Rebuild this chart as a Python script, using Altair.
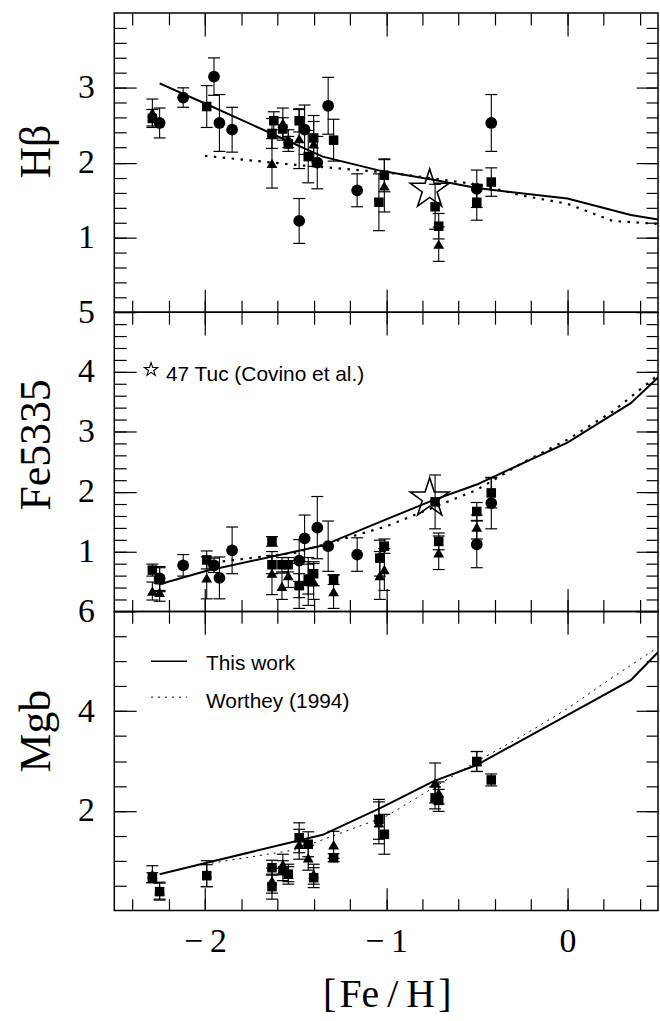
import altair as alt
import pandas as pd

# ---------------- data ----------------
# H-beta panel
hb_circ_x = [-2.25, -2.12, -1.95, -1.92, -1.85, -1.45, -1.38, -1.32, -1.48, -1.16, -0.50, -0.42]
hb_circ_y = [2.53, 2.87, 3.15, 2.53, 2.44, 2.44, 2.00, 2.76, 1.22, 1.63, 1.65, 2.53]
hb_circ_e = [0.20, 0.13, 0.25, 0.38, 0.30, 0.33, 0.35, 0.38, 0.30, 0.22, 0.25, 0.38]
hb_sq_x = [-2.29, -1.99, -1.63, -1.62, -1.57, -1.54, -1.48, -1.43, -1.40, -1.29, -1.04, -1.01, -0.73, -0.71, -0.50, -0.42]
hb_sq_y = [2.59, 2.75, 2.39, 2.56, 2.45, 2.25, 2.56, 2.08, 2.33, 2.30, 1.47, 1.83, 1.41, 1.15, 1.47, 1.74]
hb_sq_e = [0.12, 0.28, 0.20, 0.12, 0.15, 0.10, 0.15, 0.35, 0.30, 0.28, 0.38, 0.22, 0.30, 0.17, 0.24, 0.19]
hb_tri_x = [-2.29, -1.63, -1.57, -1.54, -1.48, -1.40, -1.01, -0.71]
hb_tri_y = [2.67, 1.99, 2.53, 2.32, 2.32, 2.25, 1.69, 0.91]
hb_tri_e = [0.18, 0.33, 0.20, 0.12, 0.40, 0.30, 0.35, 0.23]
hb_star = [-0.76, 1.64]

# Fe5335 panel
fe_circ_x = [-2.25, -2.12, -1.95, -1.92, -1.85, -1.48, -1.45, -1.38, -1.32, -1.16, -0.50, -0.42]
fe_circ_y = [0.55, 0.77, 0.77, 0.56, 1.02, 0.85, 1.22, 1.40, 1.09, 0.95, 1.12, 1.81]
fe_circ_e = [0.20, 0.18, 0.12, 0.35, 0.39, 0.35, 0.39, 0.52, 0.42, 0.28, 0.39, 0.43]
fe_sq_x = [-2.29, -2.25, -1.99, -1.63, -1.63, -1.575, -1.54, -1.48, -1.43, -1.40, -1.29, -1.035, -1.01, -0.73, -0.71, -0.50, -0.42]
fe_sq_y = [0.69, 0.53, 0.86, 1.17, 0.78, 0.78, 0.78, 0.43, 0.54, 0.63, 0.53, 0.89, 1.09, 1.83, 1.17, 1.67, 1.98]
fe_sq_e = [0.10, 0.20, 0.15, 0.08, 0.15, 0.12, 0.12, 0.20, 0.25, 0.20, 0.08, 0.30, 0.12, 0.45, 0.14, 0.15, 0.25]
fe_tri_x = [-2.29, -2.25, -1.99, -1.63, -1.575, -1.54, -1.48, -1.43, -1.40, -1.29, -1.035, -1.01, -0.71, -0.50]
fe_tri_y = [0.34, 0.32, 0.56, 0.64, 0.42, 0.60, 0.45, 0.50, 0.50, 0.33, 0.60, 0.70, 0.98, 1.41]
fe_tri_e = [0.15, 0.15, 0.35, 0.36, 0.22, 0.20, 0.40, 0.40, 0.30, 0.28, 0.40, 0.35, 0.28, 0.20]
fe_star = [-0.76, 1.89]

# Mgb panel
mg_sq_x = [-2.29, -2.25, -1.99, -1.63, -1.63, -1.57, -1.54, -1.48, -1.43, -1.40, -1.29, -1.04, -1.01, -0.73, -0.71, -0.50, -0.42]
mg_sq_y = [0.66, 0.38, 0.70, 0.86, 0.48, 0.80, 0.73, 1.46, 1.33, 0.66, 1.06, 1.83, 1.53, 2.26, 2.21, 2.99, 2.62]
mg_sq_e = [0.10, 0.17, 0.22, 0.15, 0.25, 0.20, 0.15, 0.30, 0.25, 0.20, 0.08, 0.40, 0.40, 0.22, 0.22, 0.20, 0.12]
mg_tri_x = [-2.29, -2.25, -1.99, -1.63, -1.57, -1.54, -1.48, -1.43, -1.40, -1.29, -1.04, -0.73, -0.71, -0.50]
mg_tri_y = [0.73, 0.40, 0.74, 0.60, 0.93, 0.73, 1.33, 1.06, 0.73, 1.32, 1.76, 2.56, 2.36, 2.99]
mg_tri_e = [0.17, 0.17, 0.26, 0.25, 0.20, 0.20, 0.30, 0.25, 0.20, 0.27, 0.42, 0.40, 0.22, 0.20]

# Models
tw_x = [-2.25, -1.99, -1.35, -1.03, -0.74, -0.50, 0.0, 0.35, 0.5]
tw_hb = [3.06, 2.78, 2.08, 1.89, 1.77, 1.66, 1.52, 1.30, 1.24]
tw_fe = [0.455, 0.68, 1.10, 1.50, 1.86, 2.12, 2.82, 3.48, 3.91]
tw_mg = [0.73, 0.96, 1.52, 2.06, 2.59, 2.92, 3.92, 4.62, 5.18]
wo_x = [-2.0, -1.5, -1.0, -0.5, -0.25, 0.0, 0.25, 0.5]
wo_hb = [2.09, 1.97, 1.87, 1.71, 1.56, 1.45, 1.22, 1.18]
wo_fe = [0.80, 0.98, 1.42, 2.03, 2.48, 2.87, 3.34, 3.95]
wo_mg = [0.93, 1.22, 1.89, 2.99, 3.50, 4.05, 4.68, 5.28]

# ---------------- styling / layout ----------------
XDOM = [-2.5, 0.5]
W, H = 547, 301
SERIF = "Liberation Serif"
SANS = "Liberation Sans"
LABEL_FS = 34
YTITLE_FS = 44
XTITLE_FS = 40
STAR = ("M0,-1L0.2245,-0.309L0.951,-0.309L0.363,0.118L0.588,0.809L0,0.382"
        "L-0.588,0.809L-0.363,0.118L-0.951,-0.309L-0.2245,-0.309Z")


def frange(lo, hi, step):
    n = int(round((hi - lo) / step))
    return [round(lo + i * step, 6) for i in range(n + 1)]


X_MAJOR = [-2, -1, 0]
X_MINOR = frange(-2.4, 0.4, 0.2)


def err_df(xs, ys, es):
    return pd.DataFrame({"x": xs, "y": ys,
                         "lo": [y - e for y, e in zip(ys, es)],
                         "hi": [y + e for y, e in zip(ys, es)]})


def tick_axis(orient, values, size, labels=False, **kw):
    return alt.Axis(orient=orient, values=values, tickSize=size, offset=-size,
                    domain=False, grid=False, tickColor="black", tickWidth=1.2,
                    labels=labels, **kw)


def panel(ydom, ymaj, ymin, ytitle, title_y, groups, solid_y, dot_y, dot_w, dot_dash,
          star=None, extra=None, bottom=False):
    xs = alt.Scale(domain=XDOM, nice=False, zero=False)
    ys = alt.Scale(domain=ydom, nice=False, zero=False)

    def enc(ch, y="y", x="x"):
        return ch.encode(x=alt.X(x + ":Q", scale=xs, axis=None),
                         y=alt.Y(y + ":Q", scale=ys, axis=None))

    layers = []
    layers.append(enc(alt.Chart(pd.DataFrame({"x": wo_x, "y": dot_y})).mark_line(
        color="black", strokeWidth=dot_w, strokeDash=dot_dash, clip=True)))
    layers.append(enc(alt.Chart(pd.DataFrame({"x": tw_x, "y": solid_y})).mark_line(
        color="black", strokeWidth=2, clip=True)))

    sizes = {"circle": 140, "square": 92, "triangle-up": 118}
    for shape, df in groups:
        layers.append(alt.Chart(df).mark_rule(color="black", strokeWidth=1.1).encode(
            x=alt.X("x:Q", scale=xs, axis=None),
            y=alt.Y("lo:Q", scale=ys, axis=None), y2="hi:Q"))
        for col in ("lo", "hi"):
            layers.append(enc(alt.Chart(df).mark_tick(
                orient="horizontal", size=12, thickness=1.2, color="black", opacity=1), y=col))
        layers.append(enc(alt.Chart(df).mark_point(
            shape=shape, filled=True, color="black", opacity=1, size=sizes[shape])))

    if star is not None:
        layers.append(enc(alt.Chart(pd.DataFrame({"x": [star[0]], "y": [star[1]]})).mark_point(
            shape=STAR, filled=False, stroke="black", strokeWidth=1.6, size=1700, opacity=1)))
    if extra:
        layers.extend(extra(enc, xs, ys))

    dummy = pd.DataFrame({"x": [XDOM[0]], "y": [ydom[0]]})

    def ax_layer(xa, ya):
        return alt.Chart(dummy).mark_point(opacity=0).encode(
            x=alt.X("x:Q", scale=xs, axis=xa), y=alt.Y("y:Q", scale=ys, axis=ya))

    y_left = tick_axis("left", ymaj, 22, labels=True, labelFont=SERIF, labelFontSize=LABEL_FS,
                       labelColor="black", labelPadding=20, labelOverlap=False, labelFlush=False,
                       title=ytitle, titleFont=SERIF, titleFontSize=YTITLE_FS, titleFontWeight="normal",
                       titleColor="black", titleX=-100, titleY=title_y, titleAngle=270,
                       titleBaseline="middle", titleAlign="center")
    if bottom:
        x_bot = tick_axis("bottom", X_MAJOR, 23, labels=True, labelFont=SERIF, labelFontSize=LABEL_FS,
                          labelColor="black", labelPadding=14, labelFlush=False,
                          labelExpr="datum.value < 0 ? '\u2212\u2009' + abs(datum.value) : datum.label",
                          title="[\u200aFe\u2009/\u2009H\u200a]", titleFont=SERIF, titleFontSize=XTITLE_FS,
                          titleFontWeight="normal", titleColor="black", titleX=274, titleY=108,
                          titleBaseline="middle", titleAlign="center")
    else:
        x_bot = tick_axis("bottom", X_MAJOR, 23, title=None)

    layers.append(ax_layer(x_bot, y_left))
    layers.append(ax_layer(tick_axis("bottom", X_MINOR, 12, title=None),
                           tick_axis("left", ymin, 12, title=None)))
    layers.append(ax_layer(tick_axis("top", X_MAJOR, 23, title=None),
                           tick_axis("right", ymaj, 22, title=None)))
    layers.append(ax_layer(tick_axis("top", X_MINOR, 12, title=None),
                           tick_axis("right", ymin, 12, title=None)))

    return alt.layer(*layers).resolve_axis(x="independent", y="independent").properties(
        width=W, height=H)


def fe_extra(enc, xs, ys):
    star = enc(alt.Chart(pd.DataFrame({"x": [-2.297], "y": [4.04]})).mark_point(
        shape=STAR, filled=False, stroke="black", strokeWidth=1.1, size=200, opacity=1))
    txt = enc(alt.Chart(pd.DataFrame({"x": [-2.215], "y": [3.95], "t": ["47 Tuc (Covino et al.)"]})).mark_text(
        align="left", baseline="middle", font=SANS, fontSize=21, color="black")).encode(text="t:N")
    return [star, txt]


def mg_extra(enc, xs, ys):
    leg = pd.DataFrame({"x": [-2.297, -2.297], "x2": [-2.099, -2.099], "y": [5.0, 4.28],
                        "t": ["This work", "Worthey (1994)"], "ty": [4.94, 4.18], "tx": [-1.994, -1.994]})
    l1 = alt.Chart(leg.iloc[[0]]).mark_rule(color="black", strokeWidth=1.4).encode(
        x=alt.X("x:Q", scale=xs, axis=None), x2="x2:Q", y=alt.Y("y:Q", scale=ys, axis=None))
    l2 = alt.Chart(leg.iloc[[1]]).mark_rule(color="black", strokeWidth=1, strokeDash=[2, 5]).encode(
        x=alt.X("x:Q", scale=xs, axis=None), x2="x2:Q", y=alt.Y("y:Q", scale=ys, axis=None))
    txt = alt.Chart(leg).mark_text(align="left", baseline="middle", font=SANS, fontSize=21,
                                   color="black").encode(
        x=alt.X("tx:Q", scale=xs, axis=None), y=alt.Y("ty:Q", scale=ys, axis=None), text="t:N")
    return [l1, l2, txt]


p1 = panel([0, 4], [1, 2, 3], frange(0.2, 3.8, 0.2), "H\u03b2", 139,
           [("circle", err_df(hb_circ_x, hb_circ_y, hb_circ_e)),
            ("square", err_df(hb_sq_x, hb_sq_y, hb_sq_e)),
            ("triangle-up", err_df(hb_tri_x, hb_tri_y, hb_tri_e))],
           tw_hb, wo_hb, 2.2, [2.5, 6.5], star=hb_star)
p2 = panel([0, 5], [1, 2, 3, 4, 5], frange(0.2, 4.8, 0.2), "Fe5335", 133,
           [("circle", err_df(fe_circ_x, fe_circ_y, fe_circ_e)),
            ("square", err_df(fe_sq_x, fe_sq_y, fe_sq_e)),
            ("triangle-up", err_df(fe_tri_x, fe_tri_y, fe_tri_e))],
           tw_fe, wo_fe, 2.2, [2.5, 6.5], star=fe_star, extra=fe_extra)
p3 = panel([0, 6], [2, 4, 6], frange(0.5, 5.5, 0.5), "Mgb", 120,
           [("square", err_df(mg_sq_x, mg_sq_y, mg_sq_e)),
            ("triangle-up", err_df(mg_tri_x, mg_tri_y, mg_tri_e))],
           tw_mg, wo_mg, 1.0, [2, 5], extra=mg_extra, bottom=True)

chart = alt.vconcat(p1, p2, p3, spacing=0, bounds="flush").properties(
    padding={"left": 14, "top": 8, "right": 0, "bottom": 5},
    background="white",
).configure_view(stroke="black", strokeWidth=1.5)

chart.save("out.html", embed_options={"renderer": "svg", "actions": False})
